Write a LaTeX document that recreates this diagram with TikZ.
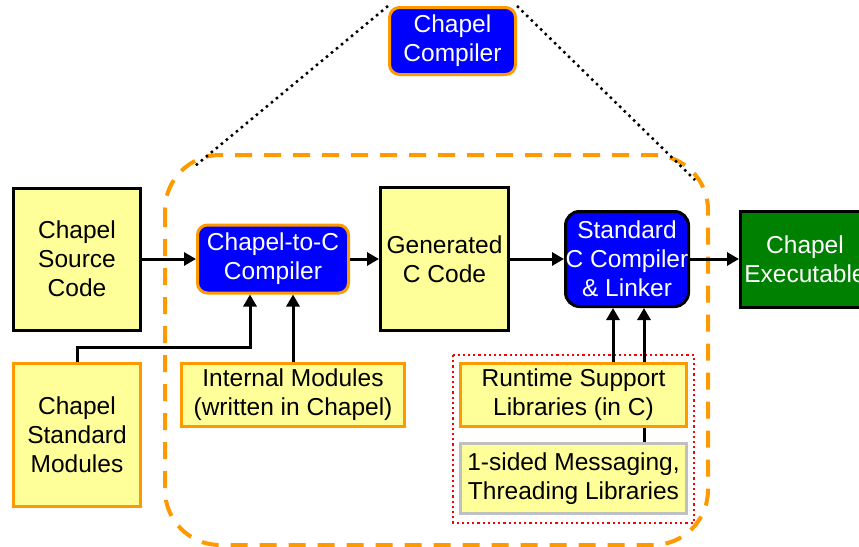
\documentclass[tikz,border=0pt]{standalone}
\usepackage{fontspec}
\setmainfont{Liberation Sans}
\usetikzlibrary{arrows.meta}
\definecolor{paleyellow}{HTML}{FFFF99}
\definecolor{chporange}{HTML}{FF9900}
\definecolor{chpblue}{HTML}{0000FF}
\definecolor{chpgreen}{HTML}{008000}
\definecolor{chpgray}{HTML}{C0C0C0}
\begin{document}
\begin{tikzpicture}[x=1pt, y=-1pt,
    box/.style={draw, line width=3pt, inner sep=0pt, align=center,
      font=\fontsize{24.5}{29}\selectfont},
    filebox/.style={box, fill=paleyellow, text=black},
    passbox/.style={box, fill=chpblue, text=white, rounded corners=10pt},
    arr/.style={line width=3pt, -{Triangle[length=12pt, width=13pt]}}
  ]
    \clip (0,0) rectangle (859,546);

    % Zoomed-in region of the compiler
    \draw[chporange, line width=4pt, dash pattern=on 17pt off 12pt, rounded corners=55pt]
      (165,155) rectangle (708,545);
    \draw[red, line width=2.2pt, dash pattern=on 2.2pt off 3pt] (453,355) rectangle (694,523);

    % Main pipeline
    \node[filebox, minimum width=127, minimum height=142] (src) at (77,259) {Chapel\\Source\\Code};
    \node[passbox, draw=chporange, minimum width=151, minimum height=68] (c2c) at (273,259) {Chapel-to-C\\Compiler};
    \node[filebox, minimum width=128, minimum height=143] (gen) at (444.5,259) {Generated\\C Code};
    \node[passbox, draw=black, rounded corners=14pt, minimum width=123, minimum height=95] (cc) at (627,259) {Standard\\C Compiler\\\& Linker};
    \node[box, fill=chpgreen, text=white, minimum width=129, minimum height=96] (exe) at (805,259) {Chapel\\Executable};

    % Modules and libraries
    \node[filebox, draw=chporange, minimum width=127, minimum height=143] (stdmod) at (77,435) {Chapel\\Standard\\Modules};
    \node[filebox, draw=chporange, minimum width=223, minimum height=63] (intmod) at (293,395) {Internal Modules\\(written in Chapel)};
    \node[filebox, draw=chporange, minimum width=226, minimum height=63] (rts) at (573.5,395) {Runtime Support\\Libraries (in C)};
    \node[filebox, draw=chpgray, minimum width=226, minimum height=70] (msg) at (573.5,478.5) {1-sided Messaging,\\Threading Libraries};

    % The whole compiler
    \node[passbox, draw=chporange, minimum width=126, minimum height=67] (chpl) at (452.5,41) {Chapel\\Compiler};
    \coordinate (zoomleft) at (195,166);
    \coordinate (zoomright) at (695,180);
    \draw[line width=2.5pt, dash pattern=on 2.5pt off 4pt] (chpl.north west) -- (zoomleft);
    \draw[line width=2.5pt, dash pattern=on 2.5pt off 4pt] (chpl.north east) -- (zoomright);

    % Connectors
    \draw[arr] (src) -- (c2c);
    \draw[arr] (c2c) -- (gen);
    \draw[arr] (gen) -- (cc);
    \draw[arr] (cc) -- (exe);
    \draw[arr] (stdmod.north) -- ++(0,-15) -| ([xshift=-23]c2c.south);
    \draw[arr] (intmod.north) -- (c2c.south -| intmod.north);
    \draw[arr] ([xshift=-14]cc.south |- rts.north) -- ([xshift=-14]cc.south);
    \draw[arr] ([xshift=17]cc.south |- rts.north) -- ([xshift=17]cc.south);
    \draw[line width=3pt] ([xshift=17]cc.south |- msg.north) -- ([xshift=17]cc.south |- rts.south);
  \end{tikzpicture}
\end{document}
